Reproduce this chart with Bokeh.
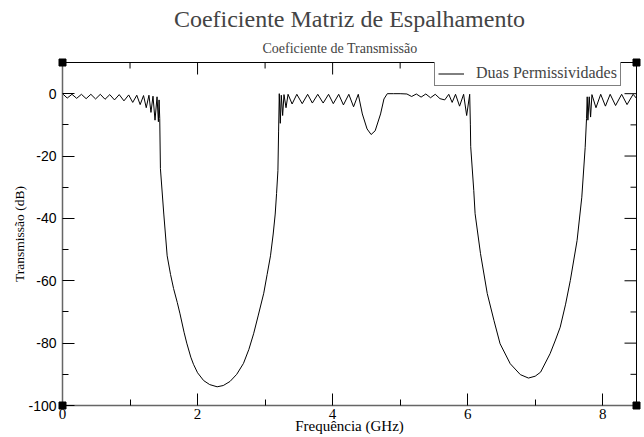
from bokeh.plotting import figure
from bokeh.models import Range1d, Title, Legend, LegendItem, FixedTicker
from bokeh.embed import file_html
from bokeh.resources import INLINE

SERIF = "Liberation Serif"
SANS = "Liberation Sans"

main_title = "Coeficiente Matriz de Espalhamento"
sub_title = "Coeficiente de Transmissão"
x_label = "Frequência (GHz)"
y_label = "Transmissão (dB)"
series_name = "Duas Permissividades"

x_major = [0, 2, 4, 6, 8]
x_minor = [1, 3, 5, 7]
y_major = [0, -20, -40, -60, -80, -100]
y_minor = [-10, -30, -50, -70, -90]
x_min, x_max = 0, 8.5
y_min, y_max = -100, 10

# passband ripple 0 - 1.45 GHz
freq_a = [0.00, 0.07, 0.14, 0.21, 0.28, 0.35, 0.42, 0.49, 0.56, 0.63, 0.70, 0.77,
          0.84, 0.91, 0.98, 1.04, 1.10, 1.15, 1.20, 1.24, 1.28, 1.31, 1.34, 1.37,
          1.40, 1.42, 1.43, 1.44]
trans_a = [0.0, -1.4, -0.2, -1.5, -0.2, -1.6, -0.2, -1.7, -0.2, -1.8, -0.3, -2.0,
           -0.3, -2.3, -0.4, -2.8, -0.5, -3.5, -0.6, -4.5, -0.5, -6.0, -0.8, -8.5,
           -1.0, -9.0, -2.0, -8.0]
# first stop band
freq_b = [1.45, 1.50, 1.55, 1.60, 1.645, 1.70, 1.74, 1.80, 1.84, 1.90, 1.94, 2.00,
          2.09, 2.18, 2.29, 2.38, 2.48, 2.58, 2.68, 2.76, 2.83, 2.90, 2.98, 3.03,
          3.08, 3.12, 3.15, 3.17, 3.19, 3.20]
trans_b = [-24.0, -38.6, -52.0, -58.0, -62.5, -67.0, -70.6, -76.5, -80.0, -84.5, -86.8, -89.5,
           -92.0, -93.3, -94.0, -93.6, -92.3, -90.0, -86.5, -82.0, -77.0, -71.0, -64.0, -58.0,
           -52.0, -45.0, -38.6, -32.0, -24.7, -12.0]
# second passband with notch near 4.6 GHz
freq_c = [3.21, 3.225, 3.24, 3.26, 3.28, 3.31, 3.34, 3.40, 3.47, 3.55, 3.63, 3.70,
          3.78, 3.86, 3.94, 4.01, 4.09, 4.16, 4.24, 4.31, 4.38, 4.44, 4.51, 4.57,
          4.63, 4.71, 4.76, 4.81, 4.90, 5.00, 5.10, 5.17, 5.24, 5.31, 5.38, 5.45,
          5.52, 5.59, 5.66, 5.72, 5.77, 5.82, 5.88, 5.94, 5.985, 6.03]
trans_c = [0.0, -9.5, -0.5, -7.0, -0.3, -4.5, -0.2, -3.3, -0.2, -3.2, -0.2, -3.0,
           -0.2, -3.0, -0.2, -3.2, -0.2, -3.6, -0.2, -4.2, -0.2, -6.5, -11.3, -13.1,
           -11.9, -6.5, -1.7, 0.0, 0.0, 0.0, -0.1, -0.9, -0.1, -1.1, -0.1, -1.3,
           -0.2, -1.6, -2.0, -0.2, -2.8, -0.2, -4.0, -0.2, -7.0, -0.2]
# second stop band
freq_d = [6.04, 6.045, 6.09, 6.11, 6.19, 6.29, 6.39, 6.48, 6.63, 6.78, 6.90, 7.00,
          7.08, 7.22, 7.30, 7.37, 7.45, 7.52, 7.62, 7.69, 7.74, 7.76]
trans_d = [-10.0, -17.0, -31.0, -38.5, -51.3, -64.1, -72.8, -80.2, -86.6, -90.1, -91.2, -90.6,
           -89.3, -83.4, -79.0, -74.9, -67.5, -59.9, -47.1, -33.2, -17.2, -8.0]
# third passband
freq_e = [7.77, 7.78, 7.80, 7.82, 7.84, 7.90, 7.97, 8.04, 8.11, 8.19, 8.28, 8.36, 8.45, 8.50]
trans_e = [-1.0, -8.5, -1.0, -7.5, -0.3, -4.5, -0.2, -4.0, -0.2, -3.8, -0.2, -3.5, -0.2, -1.5]

freq = freq_a + freq_b + freq_c + freq_d + freq_e
trans = trans_a + trans_b + trans_c + trans_d + trans_e

FW, FH = 574, 343

p = figure(frame_width=FW, frame_height=FH, output_backend="svg", toolbar_location=None,
           x_range=Range1d(x_min, x_max), y_range=Range1d(y_min, y_max),
           min_border_left=62, min_border_right=8, min_border_top=62, min_border_bottom=32)
p.title.visible = False
p.background_fill_color = "white"
p.border_fill_color = "white"
p.outline_line_color = "black"
p.outline_line_width = 1
p.xgrid.visible = False
p.ygrid.visible = False

for ax in (p.xaxis[0], p.yaxis[0]):
    ax.major_tick_in = 12
    ax.major_tick_out = 0
    ax.minor_tick_in = 6
    ax.minor_tick_out = 0
    ax.axis_line_color = "#666666"
    ax.axis_line_width = 1.5
    ax.major_tick_line_color = "black"
    ax.minor_tick_line_color = "black"
    ax.major_label_text_color = "black"
    ax.axis_label_text_font = SERIF
    ax.axis_label_text_font_style = "normal"
    ax.axis_label_text_color = "black"

p.xaxis.ticker = FixedTicker(ticks=x_major, minor_ticks=x_minor)
p.yaxis.ticker = FixedTicker(ticks=y_major, minor_ticks=y_minor)
p.yaxis.major_label_overrides = {v: str(v) for v in y_major}
p.xaxis.major_label_text_font = SERIF
p.xaxis.major_label_text_font_size = "15px"
p.yaxis.major_label_text_font = SANS
p.yaxis.major_label_text_font_size = "14px"
p.xaxis.axis_label = x_label
p.xaxis.axis_label_text_font_size = "15px"
p.yaxis.axis_label = y_label
p.yaxis.axis_label_text_font_size = "13.5px"
p.xaxis.major_label_standoff = 3
p.xaxis.axis_label_standoff = -4
p.yaxis.major_label_standoff = 6
p.yaxis.axis_label_standoff = -2

# mirrored inward ticks on top and right edges (lengths in px converted to data units)
dx_maj = 12 * (x_max - x_min) / FW
dx_min = 6 * (x_max - x_min) / FW
dy_maj = 12 * (y_max - y_min) / FH
dy_min = 6 * (y_max - y_min) / FH
p.segment(x0=x_major, y0=[y_max] * len(x_major), x1=x_major,
          y1=[y_max - dy_maj] * len(x_major), line_color="black", line_width=1)
p.segment(x0=x_minor, y0=[y_max] * len(x_minor), x1=x_minor,
          y1=[y_max - dy_min] * len(x_minor), line_color="black", line_width=1)
p.segment(x0=[x_max] * len(y_major), y0=y_major, x1=[x_max - dx_maj] * len(y_major),
          y1=y_major, line_color="black", line_width=1)
p.segment(x0=[x_max] * len(y_minor), y0=y_minor, x1=[x_max - dx_min] * len(y_minor),
          y1=y_minor, line_color="black", line_width=1)

p.add_layout(Title(text=sub_title, text_font=SERIF, text_font_size="14px",
                   text_font_style="normal", align="left", offset=200, standoff=14), "above")
p.add_layout(Title(text=main_title, text_font=SERIF, text_font_size="24px",
                   text_font_style="normal", align="center", standoff=0), "above")

r = p.line(freq, trans, line_color="black", line_width=1)

p.scatter([x_min, x_max, x_min, x_max], [y_max, y_max, y_min, y_min], marker="square",
          size=7, color="black", level="overlay")

legend = Legend(items=[LegendItem(label=series_name, renderers=[r])],
                location=(372, 319), margin=0, padding=3, spacing=0,
                glyph_width=26, glyph_height=13, label_height=13, label_standoff=12,
                label_text_font=SERIF, label_text_font_size="16px",
                label_text_line_height=0.9,
                border_line_color="black", border_line_width=1,
                background_fill_alpha=1)
p.add_layout(legend)

open("out.html", "w").write(file_html(p, INLINE))
